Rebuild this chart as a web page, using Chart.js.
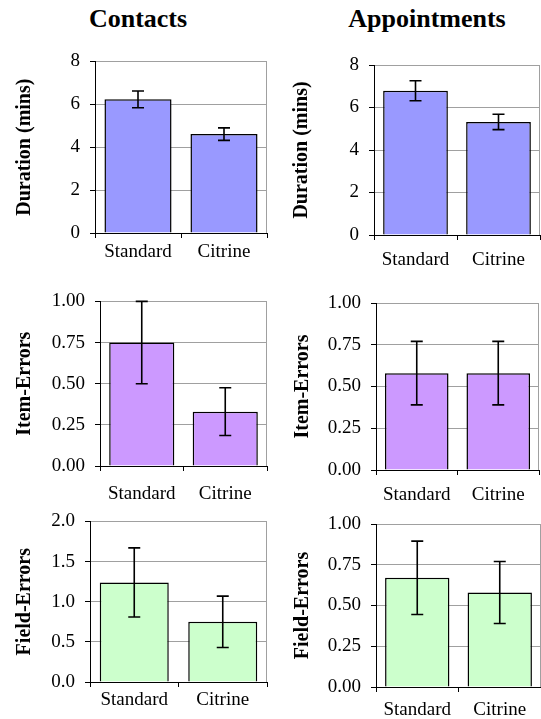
<!DOCTYPE html>
<html>
<head>
<meta charset="utf-8">
<script src="https://cdn.jsdelivr.net/npm/chart.js@4/dist/chart.umd.min.js"></script>
<style>
  body { margin: 0; background: #fff; }
  #wrap { position: relative; width: 541px; height: 719px; overflow: hidden; }
  .head { position: absolute; top: 6px; width: 200px; text-align: center; font: bold 26px 'Liberation Serif', serif; line-height: 26px; color: #000; }
  canvas { position: absolute; }
</style>
</head>
<body>
<div id="wrap">
  <div class="head" style="left:38px">Contacts</div>
  <div class="head" style="left:327px">Appointments</div>
  <canvas id="con-dur" width="270" height="240" style="left:0px;top:40px"></canvas>
  <canvas id="app-dur" width="271" height="240" style="left:270px;top:40px"></canvas>
  <canvas id="con-item" width="270" height="220" style="left:0px;top:280px"></canvas>
  <canvas id="app-item" width="271" height="220" style="left:270px;top:280px"></canvas>
  <canvas id="con-field" width="270" height="219" style="left:0px;top:500px"></canvas>
  <canvas id="app-field" width="271" height="219" style="left:270px;top:500px"></canvas>
</div>
<script>
// DATA
const CATEGORIES = ['Standard', 'Citrine'];

const contactsDuration = [6.23, 4.61];
const contactsDurationErr = [0.39, 0.29];
const apptsDuration = [6.79, 5.32];
const apptsDurationErr = [0.47, 0.36];

const contactsItem = [0.75, 0.33];
const contactsItemErr = [0.25, 0.145];
const apptsItem = [0.58, 0.58];
const apptsItemErr = [0.19, 0.19];

const contactsField = [1.24, 0.75];
const contactsFieldErr = [0.43, 0.32];
const apptsField = [0.67, 0.58];
const apptsFieldErr = [0.225, 0.19];

const TICKS_DURATION = [0, 2, 4, 6, 8];
const TICKS_QUARTER = [0, 0.25, 0.5, 0.75, 1];
const TICKS_HALF = [0, 0.5, 1, 1.5, 2];

const BLUE = '#9999FF';
const PURPLE = '#CC99FF';
const GREEN = '#CCFFCC';

Chart.defaults.font.family = "'Liberation Serif', 'Times New Roman', serif";
Chart.defaults.color = '#000';

// PLUGINS
const frame = {
  id: 'frame',
  beforeDatasetsDraw(chart) {
    const {ctx, chartArea} = chart;
    ctx.save();
    ctx.strokeStyle = '#a0a0a0';
    ctx.lineWidth = 1;
    ctx.beginPath();
    ctx.moveTo(chartArea.right - 0.5, chartArea.top);
    ctx.lineTo(chartArea.right - 0.5, chartArea.bottom);
    ctx.stroke();
    ctx.restore();
  }
};

const errorBars = {
  id: 'errorBars',
  afterDatasetsDraw(chart) {
    const ds = chart.data.datasets[0];
    const meta = chart.getDatasetMeta(0);
    const y = chart.scales.y;
    const ctx = chart.ctx;
    ctx.save();
    ctx.strokeStyle = '#000';
    ctx.lineWidth = 1.6;
    meta.data.forEach((bar, i) => {
      const hi = y.getPixelForValue(ds.data[i] + ds.errors[i]);
      const lo = y.getPixelForValue(ds.data[i] - ds.errors[i]);
      ctx.beginPath();
      ctx.moveTo(bar.x, hi);
      ctx.lineTo(bar.x, lo);
      ctx.moveTo(bar.x - 6, hi);
      ctx.lineTo(bar.x + 6, hi);
      ctx.moveTo(bar.x - 6, lo);
      ctx.lineTo(bar.x + 6, lo);
      ctx.stroke();
    });
    ctx.restore();
  }
};

// CHARTS
const panel = (id, values, errors, color, yTicks, digits, yTitle, lay) => {
  new Chart(document.getElementById(id), {
    type: 'bar',
    data: {
      labels: CATEGORIES,
      datasets: [{
        data: values,
        errors: errors,
        backgroundColor: color,
        borderColor: '#000',
        borderWidth: 1.5,
        barPercentage: 0.78,
        categoryPercentage: 1
      }]
    },
    options: {
      responsive: false,
      animation: false,
      layout: { padding: { top: lay.top, right: lay.right, left: 0, bottom: 0 } },
      plugins: { legend: { display: false }, tooltip: { enabled: false } },
      scales: {
        x: {
          grid: { drawOnChartArea: false, tickLength: 5, tickColor: '#000', offset: true },
          border: { color: '#000', width: 1 },
          ticks: { color: '#000', padding: lay.xPad, font: { size: 19 } },
          afterFit: (s) => { s.height = lay.xH; }
        },
        y: {
          min: yTicks[0],
          max: yTicks[yTicks.length - 1],
          afterBuildTicks: (s) => { s.ticks = yTicks.map(v => ({ value: v })); },
          ticks: {
            color: '#000',
            padding: 10,
            font: { size: 19 },
            callback: (v) => Number(v).toFixed(digits)
          },
          grid: { color: '#a0a0a0', tickLength: 5, tickColor: '#000' },
          border: { color: '#000', width: 1 },
          title: {
            display: true,
            text: yTitle,
            color: '#000',
            font: { size: 20, weight: 'bold' },
            padding: { top: lay.tPad, bottom: 0 }
          },
          afterFit: (s) => { s.width = lay.yW; }
        }
      }
    },
    plugins: [frame, errorBars]
  });
};

panel('con-dur', contactsDuration, contactsDurationErr, BLUE, TICKS_DURATION, 0, 'Duration (mins)',
  { top: 20, right: 3, yW: 95, xH: 47, xPad: 3, tPad: 13 });
panel('app-dur', apptsDuration, apptsDurationErr, BLUE, TICKS_DURATION, 0, 'Duration (mins)',
  { top: 25, right: 1, yW: 104, xH: 45, xPad: 9, tPad: 20 });
panel('con-item', contactsItem, contactsItemErr, PURPLE, TICKS_QUARTER, 2, 'Item-Errors',
  { top: 15, right: 3, yW: 100, xH: 34, xPad: 12, tPad: 13 });
panel('app-item', apptsItem, apptsItemErr, PURPLE, TICKS_QUARTER, 2, 'Item-Errors',
  { top: 23, right: 2, yW: 106, xH: 30, xPad: 9, tPad: 21 });
panel('con-field', contactsField, contactsFieldErr, GREEN, TICKS_HALF, 1, 'Field-Errors',
  { top: 16, right: 3, yW: 90, xH: 37, xPad: 2, tPad: 13 });
panel('app-field', apptsField, apptsFieldErr, GREEN, TICKS_QUARTER, 2, 'Field-Errors',
  { top: 24, right: 0, yW: 106, xH: 32, xPad: 7, tPad: 21 });
</script>
</body>
</html>
